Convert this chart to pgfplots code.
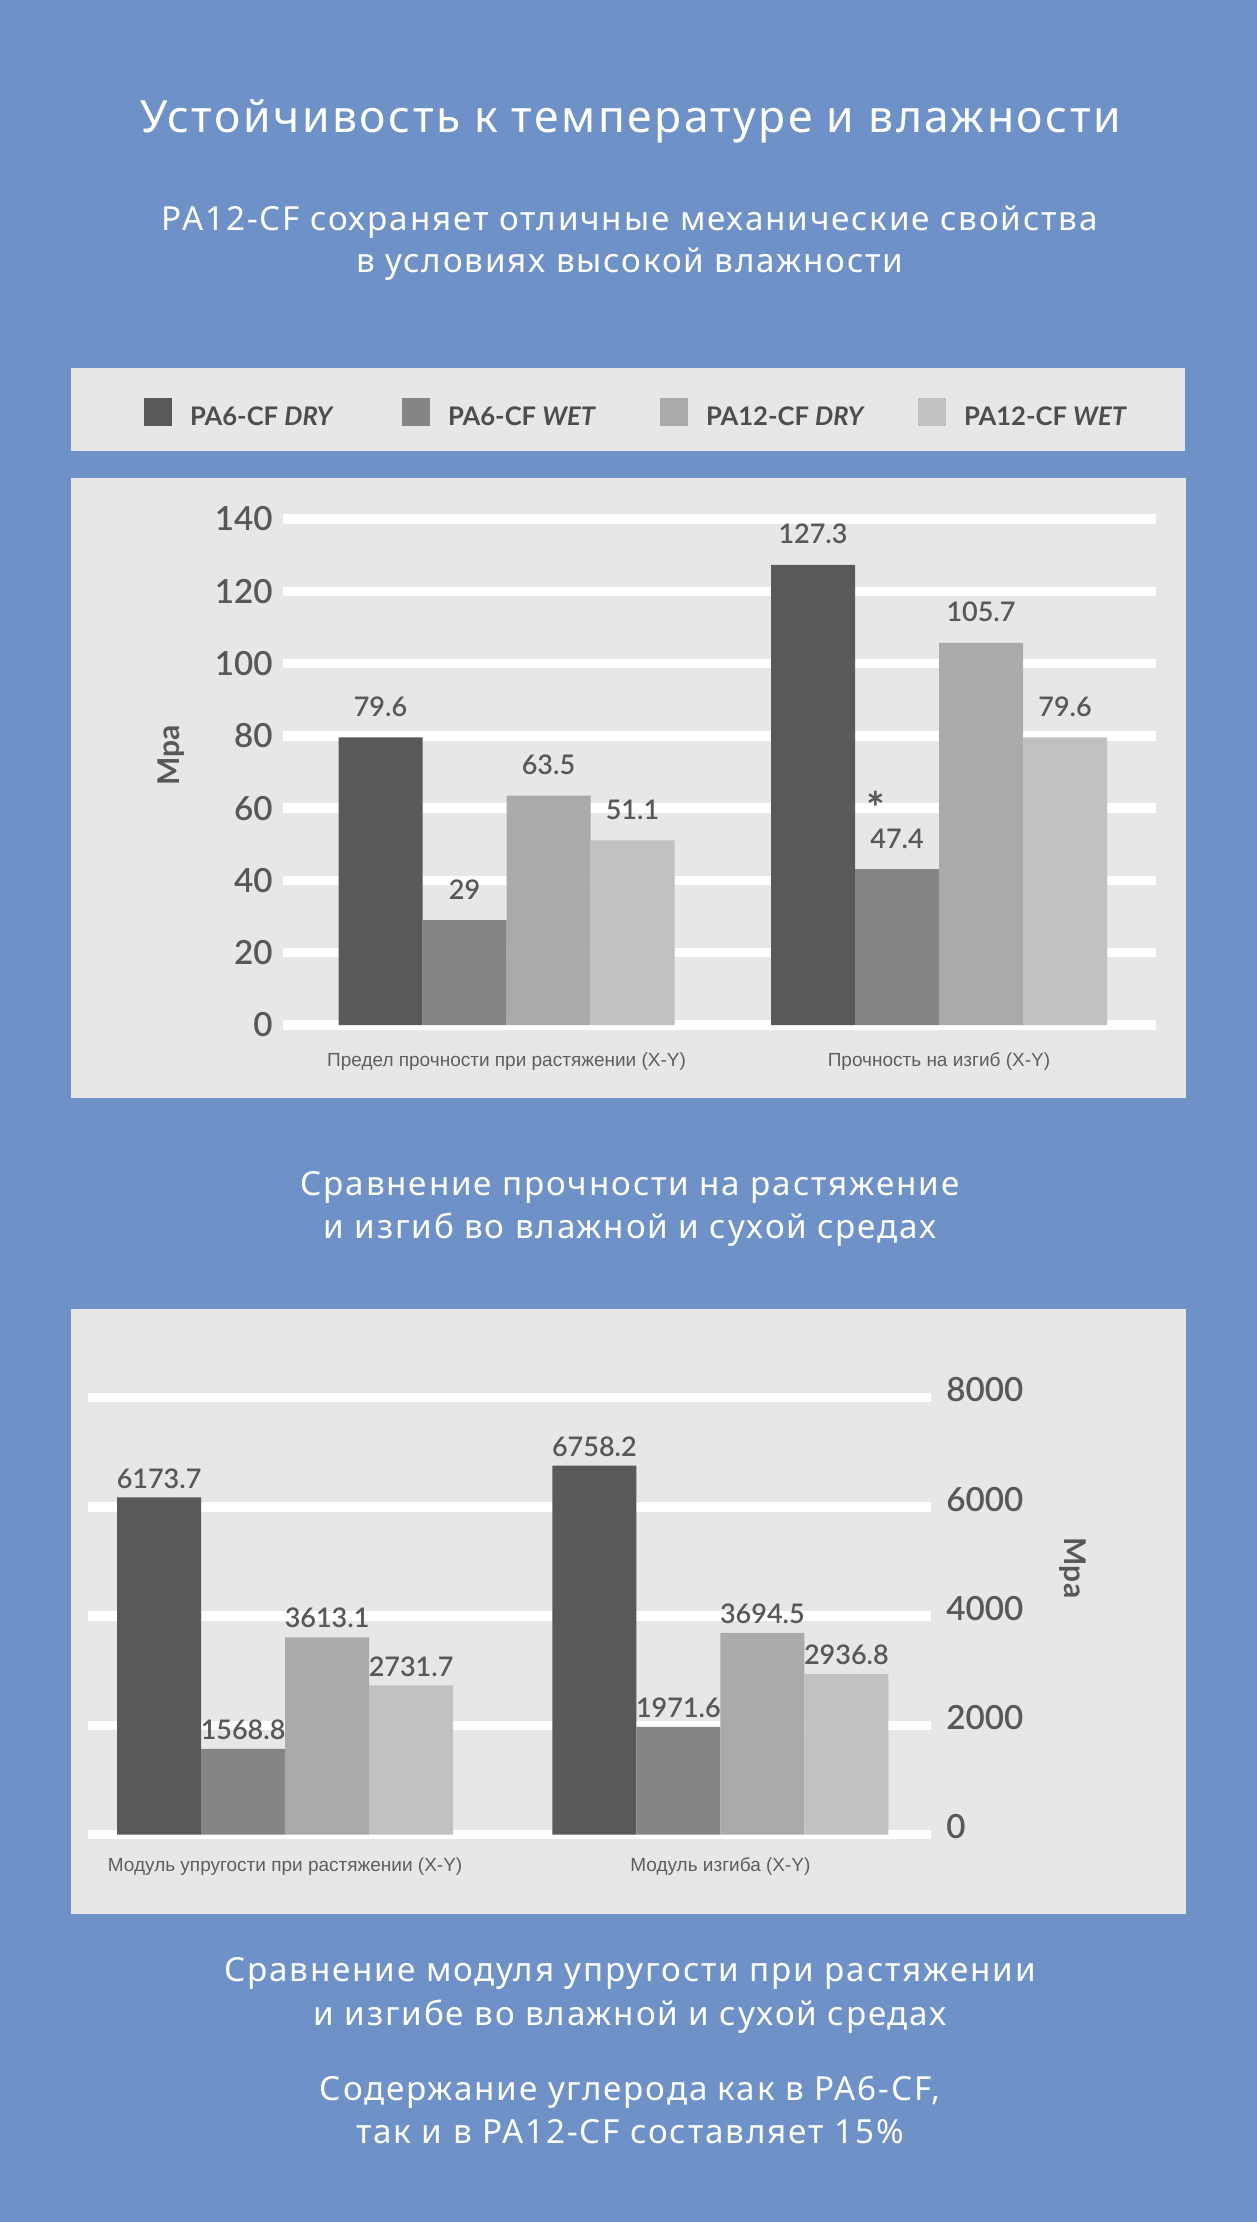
\documentclass[border=0pt]{standalone}
\usepackage{fontspec}
\setmainfont{Noto Sans}
\newfontfamily\lato{Lato}
\newfontfamily\libs{Liberation Sans}
\newfontfamily\capfont{Noto Sans}[LetterSpace=5.6]
\IfFontExistsTF{Lato Semibold}{\newfontfamily\latosb{Lato Semibold}}{\newcommand\latosb{\lato\bfseries}}
\usepackage{pgfplots}
\pgfplotsset{compat=1.18}

\definecolor{bgblue}{HTML}{6E91C8}
\definecolor{panel}{HTML}{E7E7E8}
\definecolor{cA}{HTML}{5A585A}
\definecolor{cB}{HTML}{858486}
\definecolor{cC}{HTML}{AAAAAC}
\definecolor{cD}{HTML}{C1C1C3}
\definecolor{txt}{HTML}{58585A}
\definecolor{cat}{HTML}{5E5E60}
\definecolor{leg}{HTML}{4D4D4F}

% square legend images, text follows after a small gap
\pgfplotsset{
  sq/.style={legend image code/.code={
      \fill[##1] (0pt,-2.4pt) rectangle (14pt,11.6pt);
      \path (23pt,0pt);}},
  panelaxis/.style={
    scale only axis, anchor=south west,
    ybar=0pt, bar width=42pt,
    enlargelimits=false, clip=false,
    axis line style={draw=none}, major tick style={draw=none},
    ymajorgrids, major grid style={white, line width=4.75pt},
    xtick={0,1},
    /pgf/number format/assume math mode=true,
    /pgf/number format/1000 sep={},
    yticklabel style={font=\latosb\fontsize{16.6}{16.6}\selectfont, text=txt, inner sep=0pt},
    xticklabel style={font=\libs\fontsize{9.5}{11}\selectfont, text=cat, anchor=base, inner sep=0pt},
    nodes near coords, point meta=explicit symbolic,
    every node near coord/.append style={font=\latosb\fontsize{13.5}{14}\selectfont, text=txt, anchor=south, inner sep=0pt},
  },
}

\newcommand\captline[2]{\node[anchor=base, text=white, font=\capfont\fontsize{16.6}{20}\selectfont] at (315pt,#1) {#2};}
\newcommand\legtext[1]{\raisebox{3.5pt}{\makebox[106pt][l]{#1}}}
% asterisk set above the start of a value label
\newcommand\withstar[1]{\rlap{\hspace{-2pt}\raisebox{12pt}{\lato\bfseries\fontsize{22}{22}\selectfont *}}#1}

\begin{document}
\begin{tikzpicture}
\fill[bgblue] (0,0) rectangle (628.5pt,-1111pt);
\fill[panel] (35.5pt,-184pt) rectangle (592.5pt,-225.5pt);
\fill[panel] (35.5pt,-239pt) rectangle (593pt,-549pt);
\fill[panel] (35.5pt,-654.5pt) rectangle (593pt,-957pt);

\node[anchor=base, text=white, font=\capfont\fontsize{22.2}{26}\selectfont] at (315.3pt,-66.15pt) {Устойчивость к температуре и влажности};
\captline{-115.25pt}{PA12-CF сохраняет отличные механические свойства}
\captline{-136.35pt}{в условиях высокой влажности}
\captline{-597.5pt}{Сравнение прочности на растяжение}
\captline{-619.15pt}{и изгиб во влажной и сухой средах}
\captline{-990.85pt}{Сравнение модуля упругости при растяжении}
\captline{-1012.5pt}{и изгибе во влажной и сухой средах}
\captline{-1050pt}{Содержание углерода как в PA6-CF,}
\captline{-1071.65pt}{так и в PA12-CF составляет 15\%}

\node[rotate=90, text=txt, font=\lato\bfseries\fontsize{15}{16}\selectfont] at (85.5pt,-377.5pt) {Mpa};
\node[rotate=-90, text=txt, font=\lato\bfseries\fontsize{15}{16}\selectfont] at (536.5pt,-784pt) {Mpa};

% tensile / flexural strength
\begin{axis}[panelaxis,
  at={(141.5pt,-512.5pt)}, width=436.5pt, height=253pt,
  xmin=-0.5168, xmax=1.5017, ymin=0, ymax=140,
  ytick={0,20,...,140},
  yticklabel style={anchor=east, xshift=-5pt},
  xticklabels={Предел прочности при растяжении (X-Y), Прочность на изгиб (X-Y)},
  xticklabel style={yshift=-16.5pt},
  every node near coord/.append style={yshift=10.25pt},
  legend columns=4,
  legend style={at={(axis description cs:-0.1592,1.2385)}, anchor=north west,
    draw=none, fill=none, inner sep=0pt, outer sep=0pt,
    font=\lato\bfseries\fontsize{12.8}{14}\selectfont, text=leg,
    nodes={inner sep=0pt},
    /tikz/every even column/.style={column sep=0pt},
    /tikz/every odd column/.style={column sep=0pt}},
]
\addplot[fill=cA, draw=none, sq] coordinates {(0,79.6) [79.6] (1,127.3) [127.3]};
\addlegendentry{\legtext{PA6-CF \itshape DRY}}
\addplot[fill=cB, draw=none, sq] coordinates {(0,29) [29] (1,43.1) [{\withstar{47.4}}]};
\addlegendentry{\legtext{PA6-CF \itshape WET}}
\addplot[fill=cC, draw=none, sq] coordinates {(0,63.5) [63.5] (1,105.7) [105.7]};
\addlegendentry{\legtext{PA12-CF \itshape DRY}}
\addplot[fill=cD, draw=none, sq] coordinates {(0,51.1) [51.1] (1,79.6) [79.6]};
\addlegendentry{\legtext{PA12-CF \itshape WET}}
\end{axis}

% tensile / flexural modulus
\begin{axis}[panelaxis,
  at={(43.8pt,-917.3pt)}, width=421.7pt, height=218.45pt,
  xmin=-0.4537, xmax=1.4838, ymin=0, ymax=8000,
  ytick={0,2000,...,8000},
  yticklabel pos=right,
  yticklabel style={anchor=west, xshift=7.5pt, yshift=3.85pt},
  xticklabels={Модуль упругости при растяжении (X-Y), Модуль изгиба (X-Y)},
  xticklabel style={yshift=-14pt},
  every node near coord/.append style={yshift=4.4pt},
]
\addplot[fill=cA, draw=none] coordinates {(0,6173.7) [6173.7] (1,6758.2) [6758.2]};
\addplot[fill=cB, draw=none] coordinates {(0,1568.8) [1568.8] (1,1971.6) [1971.6]};
\addplot[fill=cC, draw=none] coordinates {(0,3613.1) [3613.1] (1,3694.5) [3694.5]};
\addplot[fill=cD, draw=none] coordinates {(0,2731.7) [2731.7] (1,2936.8) [2936.8]};
\end{axis}

\pgfresetboundingbox
\path (0,0) rectangle (628.5pt,-1111pt);
\end{tikzpicture}
\end{document}
